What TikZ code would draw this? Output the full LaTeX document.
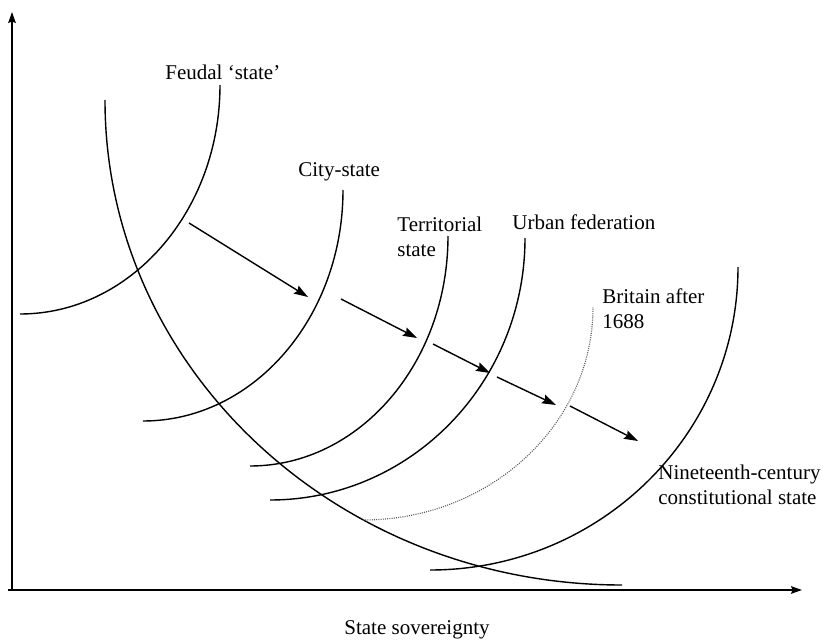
\documentclass[tikz,border=0pt]{standalone}
\usepackage{fontspec}
\setmainfont{Liberation Serif}
\usetikzlibrary{arrows.meta}

\tikzset{
  curve/.style={line width=0.7pt},
  move/.style={line width=0.7pt, -{Stealth[length=7pt, width=4.6pt, inset=1pt]}},
  axis/.style={line width=0.7pt, -{Stealth[length=5.5pt, width=3.8pt, inset=0.8pt]}},
  lbl/.style={anchor=west, inner sep=0pt, align=left, font=\fontsize{10.5}{12.5}\selectfont}
}

\begin{document}
\begin{tikzpicture}[x=0.5pt, y=-0.5pt]
\useasboundingbox (0, 0) rectangle (825, 642);
% axes
\path (12, 590) coordinate (origin);
\path (12, 12) coordinate (ytip);
\path (802, 590) coordinate (xtip);
\draw [axis] (origin) -- (ytip);
\draw [axis] (8, 590) -- (xtip);
\node (sov) [font=\fontsize{10.5}{12.5}\selectfont] at (417, 630) {State sovereignty};
% the curves
\draw [curve] (20, 314) .. controls (130.4, 314) and (220, 211.4) .. (220, 85);
\draw [curve] (105, 100) .. controls (105, 367.7) and (336.6, 585) .. (622, 585);
\draw [curve] (143, 421) .. controls (253.4, 421) and (343, 317.5) .. (343, 190);
\draw [curve] (250, 466) .. controls (359.3, 466) and (448, 363) .. (448, 236);
\draw [curve] (270, 500) .. controls (410.8, 500) and (525, 382.6) .. (525, 238);
\draw [line width=0.55pt, black!65, dash pattern=on 0.5pt off 0.6pt] (363, 520) .. controls (490, 520) and (593, 424.6) .. (593, 307);
\draw [curve] (430, 570) .. controls (600, 570) and (738, 434.3) .. (738, 267);
% labels
\node (feudal) [lbl] at (165, 72) {Feudal ‘state’};
\node (city) [lbl] at (298, 172) {City-state};
\node (terr) [lbl] at (397, 237) {Territorial\\state};
\node (urban) [lbl] at (512, 222) {Urban federation};
\node (brit) [lbl] at (602, 309) {Britain after\\1688};
\node (modern) [lbl] at (658, 485) {Nineteenth-century\\constitutional state};
% the steps
\path (189, 223) coordinate (s1) (308, 297) coordinate (e1);
\path (341, 299) coordinate (s2) (417, 338) coordinate (e2);
\path (433, 344) coordinate (s3) (490, 373) coordinate (e3);
\path (497, 377) coordinate (s4) (556, 405) coordinate (e4);
\path (570, 406) coordinate (s5) (638, 441) coordinate (e5);
\foreach \i in {1,...,5}
  \draw [move] (s\i) -- (e\i);
\end{tikzpicture}
\end{document}
